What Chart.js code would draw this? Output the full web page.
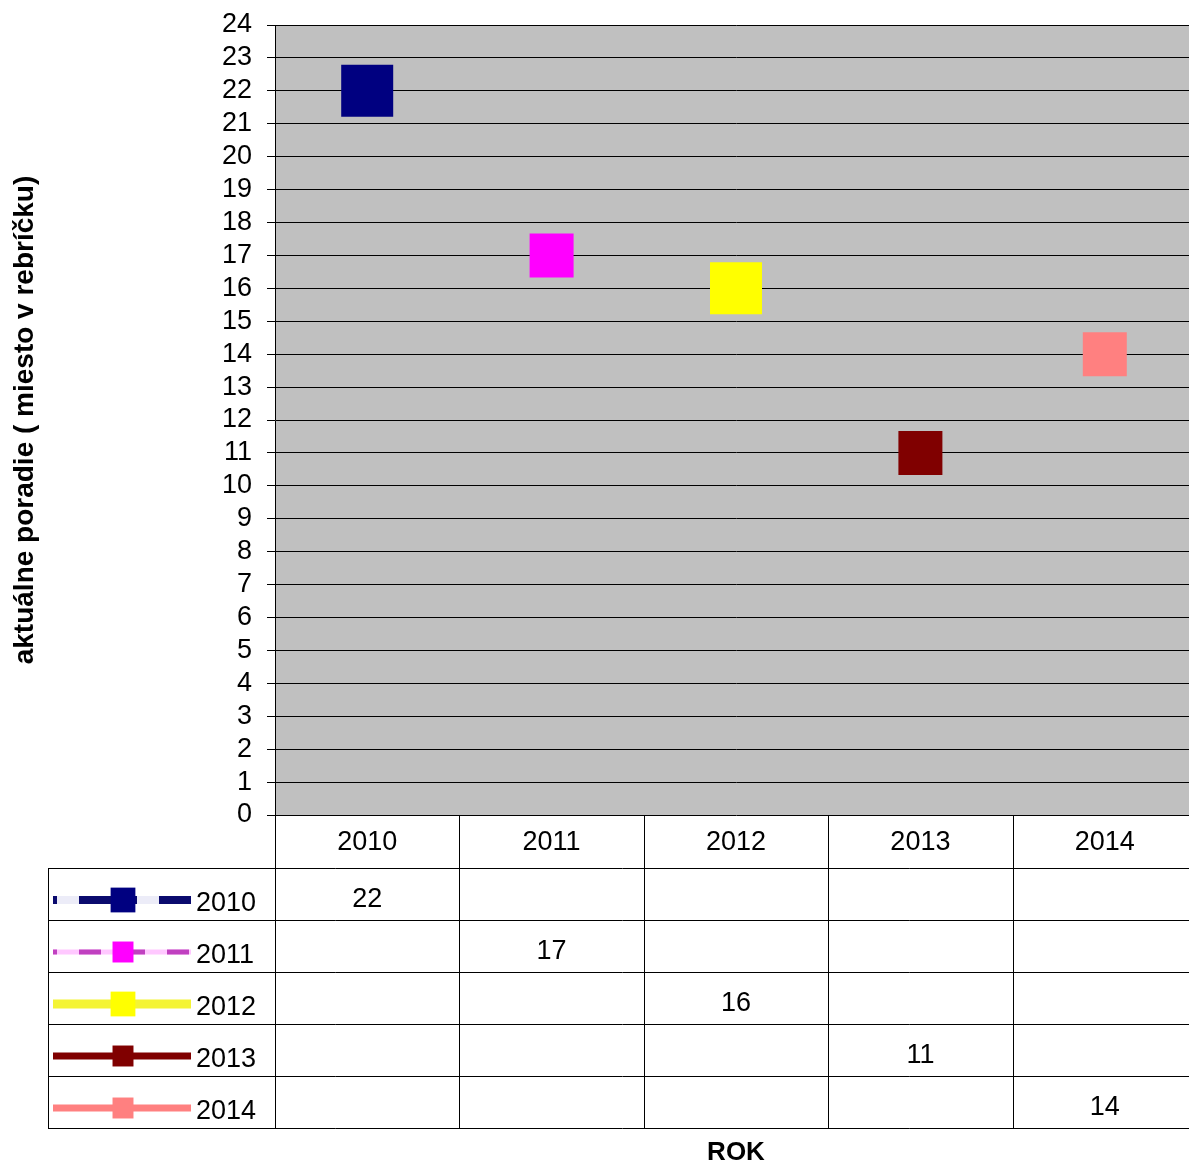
<!DOCTYPE html>
<html>
<head>
<meta charset="utf-8">
<script src="https://cdn.jsdelivr.net/npm/chart.js@4.4.0/dist/chart.umd.min.js"></script>
<style>
	html, body { margin: 0; padding: 0; background: #fff; overflow: hidden; }
	#wrap { width: 1197px; height: 1166px; }
</style>
</head>
<body>
<div id="wrap"><canvas id="rankChart" width="1197" height="1166"></canvas></div>
<script>
	// kategórie - roky
	const years = ['2010', '2011', '2012', '2013', '2014'];
	// názvy radov v legende
	const seriesNames = ['2010', '2011', '2012', '2013', '2014'];
	// poradie v rebríčku za jednotlivé roky
	const rank2010 = [22, null, null, null, null];
	const rank2011 = [null, 17, null, null, null];
	const rank2012 = [null, null, 16, null, null];
	const rank2013 = [null, null, null, 11, null];
	const rank2014 = [null, null, null, null, 14];
	// rozsah osi y
	const yMin = 0;
	const yMax = 24;
	const yStep = 1;

	const FONT = 'Arial, "Liberation Sans", sans-serif';

	// jeden rad grafu
	function makeSeries(name, values, color, size, line) {
		return {
			label: name,
			data: values,
			showLine: false,
			pointStyle: 'rect',
			pointRadius: size / Math.SQRT2,
			pointHoverRadius: size / Math.SQRT2,
			pointBackgroundColor: color,
			pointBorderColor: color,
			pointBorderWidth: 0,
			borderColor: line.color,
			backgroundColor: color,
			// vzhľad čiary v legende tabuľky
			legendLine: line,
			legendMarker: size / 2.1
		};
	}

	let datasets = [
		makeSeries(seriesNames[0], rank2010, '#000080', 52, { color: '#0a0a6e', gap: '#ececf8', width: 8, dash: [58, 22], offset: 54 }),
		makeSeries(seriesNames[1], rank2011, '#ff00ff', 44, { color: '#c040c0', gap: '#ffc8ff', width: 5, dash: [22, 22], offset: 18 }),
		makeSeries(seriesNames[2], rank2012, '#ffff00', 52, { color: '#f4f434', gap: null, width: 9, dash: [], offset: 0 }),
		makeSeries(seriesNames[3], rank2013, '#800000', 44, { color: '#800000', gap: null, width: 7, dash: [], offset: 0 }),
		makeSeries(seriesNames[4], rank2014, '#ff8080', 44, { color: '#ff8080', gap: null, width: 7, dash: [], offset: 0 })
	];

	// sivé pozadie plochy grafu
	const bgPlugin = {
		id: 'plotBg',
		beforeDraw(chart) {
			const { ctx, chartArea } = chart;
			ctx.save();
			ctx.fillStyle = '#fff';
			ctx.fillRect(0, 0, chart.width, chart.height);
			ctx.fillStyle = '#c0c0c0';
			ctx.fillRect(chartArea.left, chartArea.top, chartArea.right - chartArea.left, chartArea.bottom - chartArea.top);
			ctx.restore();
		}
	};

	// tabuľka údajov pod grafom s legendou
	const tablePlugin = {
		id: 'dataTable',
		afterDraw(chart) {
			const { ctx, chartArea, scales } = chart;
			const xScale = scales.x;
			const colW = (chartArea.right - chartArea.left) / years.length;
			const top = chartArea.bottom;
			const headH = 53;
			const rowH = 52;
			const legendLeft = 48;
			const sets = chart.data.datasets;
			const bottom = top + headH + sets.length * rowH;

			function line(x1, y1, x2, y2) {
				ctx.beginPath();
				ctx.moveTo(x1, y1);
				ctx.lineTo(x2, y2);
				ctx.stroke();
			}

			ctx.save();
			ctx.strokeStyle = '#000';
			ctx.lineWidth = 1;
			for (let r = 0; r <= sets.length; r++) {
				let y = Math.round(top + headH + r * rowH) + 0.5;
				line(legendLeft, y, chartArea.right, y);
			}
			for (let c = 0; c <= years.length; c++) {
				let x = Math.round(chartArea.left + c * colW) + 0.5;
				line(x, top, x, bottom);
			}
			line(legendLeft + 0.5, top + headH, legendLeft + 0.5, bottom);

			ctx.font = '27px ' + FONT;
			ctx.fillStyle = '#000';
			ctx.textBaseline = 'middle';

			sets.forEach(function(ds, r) {
				let cy = top + headH + r * rowH + rowH / 2 + 6;

				// hodnoty
				ctx.fillStyle = '#000';
				ctx.textAlign = 'center';
				ds.data.forEach(function(v, i) {
					if (v !== null) {
						ctx.fillText(String(v), xScale.getPixelForValue(i), cy);
					}
				});

				// legenda: čiara + značka + názov
				let lg = ds.legendLine;
				let x1 = 53, x2 = 191, mx = 123;
				ctx.lineCap = 'butt';
				ctx.lineWidth = lg.width;
				if (lg.gap) {
					ctx.strokeStyle = lg.gap;
					ctx.setLineDash([]);
					line(x1, cy, x2, cy);
				}
				ctx.strokeStyle = lg.color;
				ctx.setLineDash(lg.dash);
				ctx.lineDashOffset = lg.offset;
				line(x1, cy, x2, cy);
				ctx.setLineDash([]);

				let m = ds.legendMarker;
				ctx.fillStyle = ds.pointBackgroundColor;
				ctx.fillRect(mx - m / 2, cy - m / 2, m, m);

				ctx.fillStyle = '#000';
				ctx.textAlign = 'left';
				ctx.fillText(ds.label, 196, cy + 4);
			});
			ctx.restore();
		}
	};

	let ctx = document.getElementById('rankChart').getContext('2d');
	let rankChart = new Chart(ctx, {
		type: 'line',
		data: {
			labels: years,
			datasets: datasets
		},
		options: {
			responsive: false,
			animation: false,
			layout: {
				autoPadding: false,
				padding: { top: 25, right: 0, bottom: 0, left: 0 }
			},
			plugins: {
				legend: { display: false },
				tooltip: { enabled: false }
			},
			scales: {
				x: {
					offset: true,
					grid: { display: false, drawTicks: false },
					border: { display: false },
					ticks: {
						color: '#000',
						padding: 11,
						font: { size: 27, family: FONT }
					},
					title: {
						display: true,
						text: 'ROK',
						color: '#000',
						padding: { top: 0, bottom: 0 },
						font: { size: 26, weight: 'bold', family: FONT, lineHeight: 1 }
					},
					afterFit: function(scale) {
						scale.height = 351;
						scale.paddingLeft = 0;
						scale.paddingRight = 0;
					}
				},
				y: {
					min: yMin,
					max: yMax,
					grid: {
						color: '#000',
						lineWidth: 1,
						tickLength: 8,
						tickColor: '#000'
					},
					border: { display: true, color: '#000' },
					ticks: {
						stepSize: yStep,
						autoSkip: false,
						maxTicksLimit: 30,
						color: '#000',
						padding: 15,
						font: { size: 27, family: FONT }
					},
					title: {
						display: true,
						text: 'aktuálne poradie ( miesto v rebríčku)',
						color: '#000',
						padding: { top: 8, bottom: 0 },
						font: { size: 28, weight: 'bold', family: FONT }
					},
					afterFit: function(scale) {
						scale.width = 275;
						scale.paddingTop = 0;
						scale.paddingBottom = 0;
					}
				}
			}
		},
		plugins: [bgPlugin, tablePlugin]
	});
</script>
</body>
</html>
